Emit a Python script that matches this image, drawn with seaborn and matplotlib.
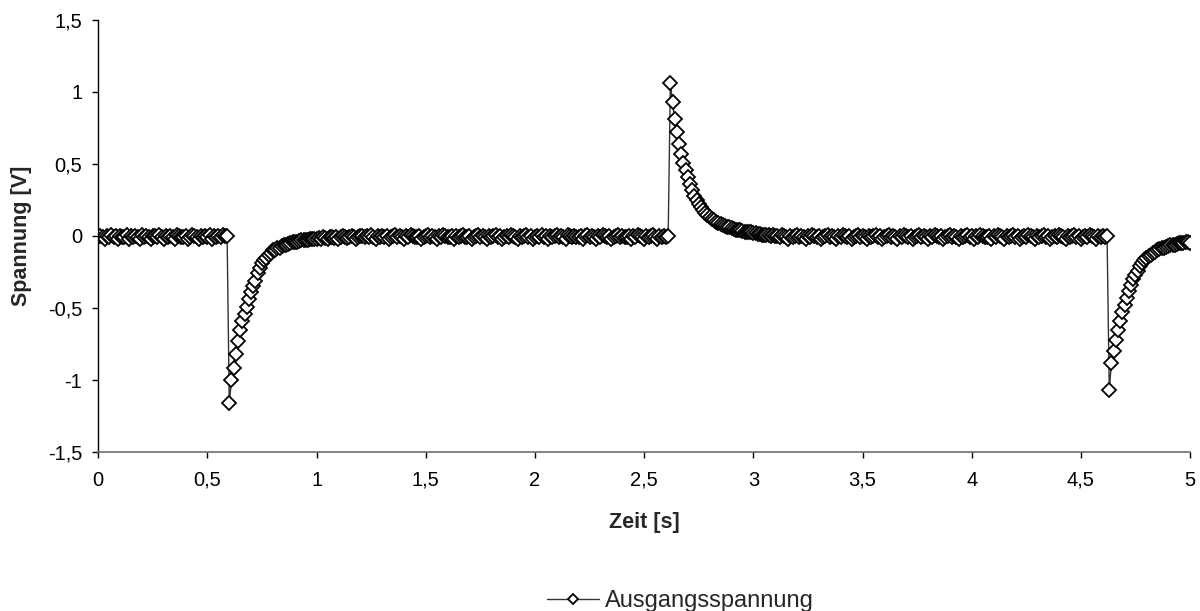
import numpy as np
import pandas as pd
import matplotlib
matplotlib.use("Agg")
import matplotlib.pyplot as plt
import seaborn as sns
from matplotlib.ticker import FixedLocator, FixedFormatter

sample_step = 0.01  # s

baseline_start = [
    -0.01, 0.0, -0.01, -0.02, 0.0, -0.01, 0.01, -0.01, 0.0, -0.02,
    0.0, -0.01, -0.01, 0.01, -0.02, 0.0, -0.01, 0.0, -0.01, -0.02,
    0.01, -0.01, 0.0, -0.01, -0.02, 0.0, 0.0, -0.01, 0.01, -0.01,
    -0.02, 0.0, -0.01, 0.0, -0.01, -0.02, 0.01, 0.0, -0.01, -0.01,
    0.0, -0.02, -0.01, 0.01, 0.0, -0.01, -0.02, 0.0, -0.01, 0.0,
    -0.01, 0.01, -0.02, 0.0, -0.01, 0.0, -0.01, 0.01, 0.0, 0.0]

falling_pulse_1 = [
    -1.16, -1.00, -0.92, -0.82, -0.73, -0.65, -0.59, -0.54, -0.49, -0.44,
    -0.39, -0.35, -0.31, -0.26, -0.22, -0.19, -0.17, -0.15, -0.13, -0.12,
    -0.10, -0.095, -0.085, -0.08, -0.07, -0.065, -0.06, -0.055, -0.05, -0.045,
    -0.04, -0.04, -0.035, -0.03, -0.03, -0.03, -0.025, -0.02, -0.02, -0.02,
    -0.02, -0.015, -0.02, -0.01, -0.015, -0.02, -0.01, -0.01, -0.015, -0.01,
    -0.02, -0.01, 0.0, -0.01, -0.015, -0.01, 0.0, -0.01, -0.02, -0.01, 0.0]

baseline_middle = [
    0.0, -0.01, 0.0, -0.01, 0.01, -0.01, -0.02, 0.0, -0.01, 0.0,
    -0.01, 0.0, -0.02, -0.01, 0.0, 0.01, -0.01, 0.0, -0.01, -0.02,
    0.0, -0.01, 0.01, 0.0, -0.01, -0.01, 0.0, -0.02, -0.01, 0.0,
    0.01, -0.01, 0.0, -0.01, -0.02, 0.0, -0.01, 0.01, 0.0, -0.01,
    -0.01, 0.0, -0.02, 0.0, -0.01, 0.0, 0.01, -0.01, -0.01, 0.0,
    -0.02, -0.01, 0.0, 0.01, -0.01, 0.0, -0.01, -0.02, 0.0, -0.01,
    0.0, 0.01, -0.01, 0.0, -0.02, -0.01, 0.0, -0.01, 0.01, 0.0,
    -0.01, -0.02, 0.0, -0.01, 0.0, 0.01, -0.01, 0.0, -0.02, -0.01,
    0.0, -0.01, 0.01, -0.01, 0.0, -0.02, 0.0, -0.01, 0.0, 0.01,
    -0.01, 0.0, -0.01, -0.02, 0.01, 0.0, -0.01, 0.0, -0.01, -0.01,
    0.0, -0.02, 0.0, 0.01, -0.01, 0.0, -0.01, -0.02, 0.0, -0.01,
    0.01, 0.0, -0.01, 0.0, -0.02, -0.01, 0.0, 0.01, -0.01, 0.0,
    -0.01, -0.01, 0.0, -0.02, 0.0, -0.01, 0.01, 0.0, -0.01, -0.02,
    0.0, -0.01, 0.0, 0.01, -0.01, -0.02, 0.0, -0.01, 0.0, -0.01,
    0.0]

rising_pulse = [
    1.06, 0.93, 0.81, 0.72, 0.64, 0.57, 0.51, 0.46, 0.41, 0.36,
    0.32, 0.28, 0.25, 0.22, 0.20, 0.18, 0.16, 0.145, 0.13, 0.12,
    0.11, 0.10, 0.09, 0.08, 0.075, 0.07, 0.065, 0.06, 0.055, 0.05,
    0.045, 0.04, 0.04, 0.035, 0.03, 0.03, 0.025, 0.025, 0.02, 0.02,
    0.015, 0.015, 0.01, 0.01, 0.01, 0.005, 0.0, 0.01, 0.0]

baseline_late = [
    0.0, -0.01, 0.01, 0.0, -0.01, -0.02, 0.0, -0.01, 0.0, 0.01,
    -0.01, 0.0, -0.01, -0.02, 0.0, -0.01, 0.01, 0.0, -0.01, 0.0,
    -0.02, -0.01, 0.0, 0.01, -0.01, 0.0, -0.01, -0.02, 0.0, -0.01,
    0.01, 0.0, -0.01, 0.0, -0.02, -0.01, 0.0, 0.01, -0.01, 0.0,
    -0.01, -0.02, 0.0, -0.01, 0.0, 0.01, -0.01, 0.0, -0.02, -0.01,
    0.0, 0.01, -0.01, 0.0, -0.01, -0.02, 0.0, -0.01, 0.01, 0.0,
    -0.01, 0.0, -0.02, -0.01, 0.0, 0.01, -0.01, 0.0, -0.01, -0.02,
    0.0, -0.01, 0.01, 0.0, -0.01, 0.0, -0.02, -0.01, 0.0, 0.01,
    -0.01, 0.0, -0.01, -0.02, 0.0, -0.01, 0.0, 0.01, -0.01, 0.0,
    -0.02, 0.0, -0.01, 0.01, 0.0, -0.01, -0.01, 0.0, -0.02, 0.0,
    -0.01, 0.01, 0.0, -0.01, -0.02, 0.0, -0.01, 0.0, 0.01, -0.01,
    0.0, -0.02, -0.01, 0.0, -0.01, 0.01, 0.0, -0.01, -0.02, 0.0,
    -0.01, 0.0, 0.01, -0.01, 0.0, -0.02, -0.01, 0.0, -0.01, 0.01,
    0.0, -0.01, -0.02, 0.0, -0.01, 0.0, 0.01, -0.01, 0.0, -0.02,
    -0.01, 0.0, -0.01, 0.01, 0.0, -0.01, -0.02, 0.0, -0.01, 0.0,
    -0.01, 0.0]

falling_pulse_2 = [
    -1.07, -0.88, -0.80, -0.72, -0.65, -0.59, -0.53, -0.48, -0.43, -0.38,
    -0.34, -0.30, -0.27, -0.24, -0.21, -0.19, -0.17, -0.15, -0.14, -0.13,
    -0.12, -0.11, -0.10, -0.09, -0.085, -0.08, -0.075, -0.07, -0.065, -0.06,
    -0.06, -0.055, -0.05, -0.05, -0.05, -0.045, -0.04, -0.05]

series_name = "Ausgangsspannung"
x_label = "Zeit [s]"
y_label = "Spannung [V]"
x_ticks = [0, 0.5, 1, 1.5, 2, 2.5, 3, 3.5, 4, 4.5, 5]
x_tick_labels = ["0", "0,5", "1", "1,5", "2", "2,5", "3", "3,5", "4", "4,5", "5"]
y_ticks = [-1.5, -1, -0.5, 0, 0.5, 1, 1.5]
y_tick_labels = ["-1,5", "-1", "-0,5", "0", "0,5", "1", "1,5"]

voltage = (baseline_start + falling_pulse_1 + baseline_middle
           + rising_pulse + baseline_late + falling_pulse_2)
time = np.round(np.arange(len(voltage)) * sample_step, 2)
df = pd.DataFrame({"Zeit": time, "Spannung": voltage})

# ---- style ----
sns.set_style("white")
plt.rcParams["font.family"] = ["Liberation Sans", "DejaVu Sans"]

fig = plt.figure(figsize=(12, 6.11), dpi=100)
ax = fig.add_axes([0.0819, 0.2602, 0.9917 - 0.0819, 0.9673 - 0.2602])

sns.lineplot(data=df, x="Zeit", y="Spannung", ax=ax, estimator=None, sort=False,
             color="#333333", linewidth=1.0, marker="D", markersize=7.0,
             markerfacecolor="white", markeredgecolor="black",
             markeredgewidth=1.3, label=series_name)

ax.set_xlim(0, 5)
ax.set_ylim(-1.5, 1.5)
ax.xaxis.set_major_locator(FixedLocator(x_ticks))
ax.xaxis.set_major_formatter(FixedFormatter(x_tick_labels))
ax.yaxis.set_major_locator(FixedLocator(y_ticks))
ax.yaxis.set_major_formatter(FixedFormatter(y_tick_labels))

for side in ["top", "right"]:
    ax.spines[side].set_visible(False)
ax.spines["left"].set_color("black")
ax.spines["left"].set_linewidth(1.0)
ax.spines["bottom"].set_color("#6e6e6e")
ax.spines["bottom"].set_linewidth(1.2)

ax.tick_params(axis="both", which="major", direction="out", length=4.5,
               width=1.0, color="black", labelsize=14.5, labelcolor="black",
               bottom=True, left=True)
ax.tick_params(axis="x", pad=9)
ax.tick_params(axis="y", pad=7)

ax.set_xlabel(x_label, fontsize=15.5, fontweight="bold")
ax.set_ylabel(y_label, fontsize=15.5, fontweight="bold")
ax.xaxis.set_label_coords(0.5, (452 - 522) / 432.0)
ax.yaxis.set_label_coords((22 - 98.3) / 1091.7, 0.5)
ax.xaxis.label.set_va("center")
ax.yaxis.label.set_va("center")

leg = ax.legend(loc="center", bbox_to_anchor=(0.567, 0.0164),
                bbox_transform=fig.transFigure, frameon=False, fontsize=17,
                handlelength=2.2, handletextpad=0.25, markerscale=0.8)

ax.grid(False)
fig.savefig("out.png", dpi=100)
